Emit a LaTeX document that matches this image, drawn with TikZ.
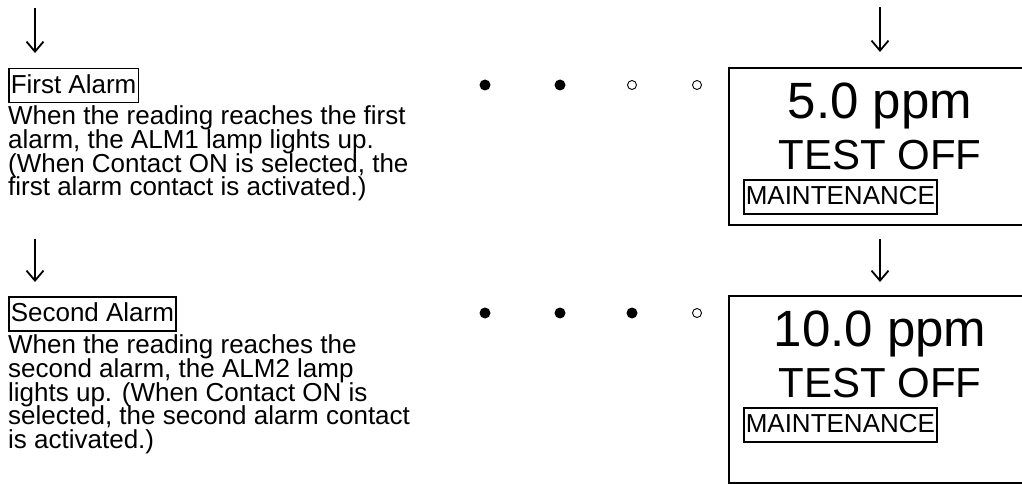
\documentclass[tikz,border=0pt]{standalone}
\usepackage{fontspec}
\setmainfont{Liberation Sans}
\usetikzlibrary{positioning, arrows.meta}
\setlength{\lineskiplimit}{-30pt}
\tikzset{
  tagbox/.style  = {draw, line width=1.5pt, inner xsep=2pt, inner ysep=1.5pt,
                    text height=23.5pt, text depth=7.5pt,
                    font=\fontsize{26}{24}\selectfont},
  bodytxt/.style = {inner sep=0pt, align=left,
                    font=\fontsize{26}{23.8}\selectfont},
  dispbox/.style = {draw, line width=2pt, minimum width=302pt, anchor=north west},
  valtxt/.style  = {font=\fontsize{51}{55}\selectfont, inner sep=0pt, anchor=base},
  modetxt/.style = {font=\fontsize{42}{46}\selectfont, inner sep=0pt, anchor=base},
  ondot/.style   = {circle, fill, inner sep=0pt, minimum size=11pt},
  offdot/.style  = {circle, draw, line width=0.9pt, inner sep=0pt, minimum size=9pt},
  flowarr/.style = {line width=1.8pt, -{Straight Barb[length=10pt,width=17pt]}}
}

\begin{document}
\begin{tikzpicture}[x=1pt, y=-1pt]
  \clip (0,0) rectangle (1022,484);

  % First alarm
  \node[tagbox, anchor=north west] (lbl1) at (8,68) {First Alarm};
  \node[bodytxt, below right=2pt and 0pt of lbl1.south west] (desc1)
    {When the reading reaches the first\\alarm, the ALM1 lamp lights up.\\
     (When Contact ON is selected, the\\first alarm contact is activated.)};

  % Second alarm
  \node[tagbox, anchor=north west] (lbl2) at (8,296) {Second Alarm};
  \node[bodytxt, below right=3pt and 0pt of lbl2.south west] (desc2)
    {When the reading reaches the\\second alarm, the ALM2 lamp\\
     lights up. (When Contact ON is\\selected, the second alarm contact\\
     is activated.)};

  % Lamps
  \node[ondot]  (l11) at (485,85) {};
  \node[ondot]  (l12) at (560,85) {};
  \node[offdot] (l13) at (632,85) {};
  \node[offdot] (l14) at (697,85) {};
  \node[ondot]  (l21) at (485,313) {};
  \node[ondot]  (l22) at (560,313) {};
  \node[ondot]  (l23) at (632,313) {};
  \node[offdot] (l24) at (697,313) {};

  % Displays
  \node[dispbox, minimum height=157pt] (disp1) at (728,67) {};
  \node[valtxt] (val1) at ([yshift=-51pt]disp1.north) {5.0 ppm};
  \node[modetxt] (mode1) at ([yshift=-51pt]val1.base) {TEST OFF};
  \node[tagbox, anchor=north west] (maint1)
    at ([xshift=15pt, yshift=-112pt]disp1.north west) {MAINTENANCE};

  \node[dispbox, minimum height=187pt] (disp2) at (728,295) {};
  \node[valtxt] (val2) at ([yshift=-51pt]disp2.north) {10.0 ppm};
  \node[modetxt] (mode2) at ([yshift=-51pt]val2.base) {TEST OFF};
  \node[tagbox, anchor=north west] (maint2)
    at ([xshift=15pt, yshift=-112pt]disp2.north west) {MAINTENANCE};

  % Arrows
  \draw[flowarr] ([xshift=27pt, yshift=60pt]lbl1.north west)
    -- ([xshift=27pt, yshift=15pt]lbl1.north west);
  \draw[flowarr] ([xshift=27pt, yshift=-37pt]desc1.south west)
    -- ([xshift=27pt, yshift=14pt]lbl2.north west);
  \draw[flowarr] ([yshift=60pt]disp1.north) -- ([yshift=15pt]disp1.north);
  \draw[flowarr] ([yshift=-13pt]disp1.south) -- ([yshift=13pt]disp2.north);
\end{tikzpicture}
\end{document}
